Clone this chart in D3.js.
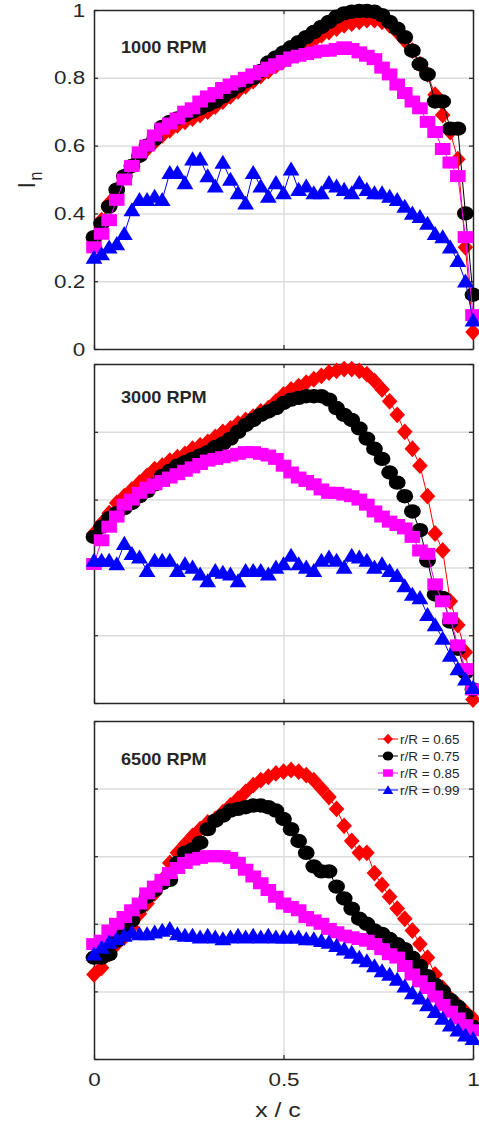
<!DOCTYPE html>
<html lang="en">
<head>
  <meta charset="UTF-8">
  <title>Normalized intensity vs chord</title>
  <script src="https://d3js.org/d3.v7.min.js"></script>
  <style>
    body { margin: 0; background: #fff; }
    text { font-family: "Liberation Sans", Arial, Helvetica, sans-serif; fill: #262626; }
  </style>
</head>
<body>
  <svg width="479" height="1126"></svg>
  <script>
    // chordwise stations x/c
    var xc = [0,0.02,0.04,0.06,0.08,0.10,0.12,0.14,0.16,0.18,
              0.20,0.22,0.24,0.26,0.28,0.30,0.32,0.34,0.36,0.38,
              0.40,0.42,0.44,0.46,0.48,0.50,0.52,0.54,0.56,0.58,
              0.60,0.62,0.64,0.66,0.68,0.70,0.72,0.74,0.76,0.78,
              0.80,0.82,0.84,0.86,0.88,0.90,0.92,0.94,0.96,0.98,1.0];

    var yTicks = [0, 0.2, 0.4, 0.6, 0.8, 1];
    var xTicks = [0, 0.5, 1];
    var seriesNames = ["r/R = 0.65", "r/R = 0.75", "r/R = 0.85", "r/R = 0.99"];
    var rpmLabels = ["1000 RPM", "3000 RPM", "6500 RPM"];

    // 1000 RPM
    var rpm1000_065 = [0.32,0.38,0.43,0.47,0.51,0.54,0.57,0.59,0.61,0.63,
      0.645,0.66,0.67,0.68,0.69,0.70,0.715,0.73,0.745,0.76,
      0.775,0.79,0.805,0.82,0.835,0.85,0.865,0.88,0.895,0.91,
      0.925,0.935,0.945,0.955,0.96,0.965,0.97,0.97,0.965,0.955,
      0.935,0.91,0.88,0.84,0.81,0.75,0.69,0.64,0.56,0.30,0.05];
    var rpm1000_075 = [0.33,0.37,0.42,0.47,0.51,0.54,0.57,0.60,0.62,0.655,
      0.67,0.68,0.69,0.70,0.71,0.72,0.73,0.745,0.76,0.775,
      0.79,0.80,0.82,0.845,0.86,0.875,0.89,0.905,0.92,0.935,
      0.95,0.965,0.98,0.99,0.995,0.997,0.997,0.995,0.985,0.965,
      0.945,0.92,0.88,0.84,0.81,0.73,0.73,0.65,0.65,0.40,0.16];
    var rpm1000_085 = [0.30,0.34,0.38,0.44,0.50,0.54,0.58,0.60,0.63,0.65,
      0.665,0.68,0.70,0.71,0.73,0.745,0.755,0.77,0.78,0.79,
      0.80,0.81,0.82,0.83,0.84,0.85,0.86,0.865,0.87,0.875,
      0.88,0.88,0.885,0.89,0.885,0.875,0.865,0.855,0.83,0.81,
      0.78,0.755,0.73,0.71,0.67,0.64,0.59,0.55,0.51,0.33,0.10];
    var rpm1000_099 = [0.27,0.28,0.30,0.31,0.34,0.41,0.44,0.44,0.45,0.44,
      0.52,0.52,0.49,0.56,0.56,0.51,0.48,0.55,0.50,0.46,
      0.43,0.52,0.48,0.45,0.49,0.46,0.53,0.47,0.48,0.46,
      0.46,0.49,0.48,0.47,0.46,0.49,0.47,0.46,0.46,0.45,
      0.44,0.42,0.40,0.39,0.37,0.34,0.33,0.30,0.26,0.20,0.085];

    // 3000 RPM
    var rpm3000_065 = [0.50,0.53,0.56,0.59,0.61,0.63,0.65,0.67,0.69,0.70,
      0.715,0.725,0.735,0.75,0.76,0.77,0.785,0.80,0.81,0.825,
      0.835,0.845,0.86,0.87,0.89,0.91,0.925,0.935,0.945,0.955,
      0.965,0.975,0.98,0.985,0.985,0.98,0.97,0.95,0.925,0.89,
      0.85,0.80,0.75,0.70,0.61,0.50,0.45,0.30,0.23,0.15,0.01];
    var rpm3000_075 = [0.49,0.52,0.545,0.56,0.575,0.59,0.61,0.625,0.645,0.67,
      0.685,0.70,0.71,0.72,0.73,0.74,0.755,0.765,0.78,0.80,
      0.82,0.835,0.85,0.86,0.87,0.885,0.895,0.90,0.905,0.905,
      0.905,0.895,0.87,0.85,0.835,0.81,0.78,0.75,0.72,0.68,
      0.65,0.61,0.565,0.51,0.42,0.32,0.31,0.24,0.16,0.09,0.04];
    var rpm3000_085 = [0.41,0.48,0.52,0.55,0.585,0.60,0.62,0.635,0.645,0.655,
      0.665,0.675,0.685,0.695,0.705,0.715,0.72,0.725,0.73,0.735,
      0.74,0.74,0.735,0.73,0.72,0.70,0.68,0.665,0.655,0.645,
      0.63,0.62,0.62,0.615,0.61,0.60,0.585,0.565,0.55,0.535,
      0.525,0.515,0.49,0.45,0.44,0.35,0.30,0.25,0.17,0.10,0.04];
    var rpm3000_099 = [0.42,0.42,0.42,0.41,0.47,0.44,0.43,0.39,0.42,0.42,
      0.42,0.39,0.41,0.40,0.38,0.36,0.39,0.385,0.38,0.36,
      0.39,0.39,0.39,0.38,0.40,0.41,0.435,0.41,0.40,0.39,
      0.42,0.43,0.42,0.40,0.435,0.43,0.42,0.40,0.41,0.39,
      0.375,0.345,0.32,0.31,0.26,0.23,0.19,0.14,0.10,0.07,0.045];

    // 6500 RPM
    var rpm6500_065 = [0.25,0.27,0.31,0.34,0.36,0.39,0.43,0.46,0.49,0.53,
      0.58,0.61,0.635,0.66,0.68,0.70,0.71,0.73,0.75,0.77,
      0.79,0.81,0.825,0.835,0.845,0.85,0.855,0.85,0.84,0.825,
      0.80,0.775,0.74,0.69,0.645,0.61,0.61,0.55,0.515,0.48,
      0.445,0.415,0.38,0.34,0.30,0.25,0.21,0.18,0.16,0.14,0.12];
    var rpm6500_075 = [0.30,0.30,0.31,0.35,0.38,0.41,0.45,0.48,0.50,0.52,
      0.53,0.58,0.61,0.62,0.64,0.68,0.705,0.72,0.735,0.74,
      0.745,0.75,0.75,0.745,0.735,0.71,0.68,0.645,0.61,0.57,
      0.555,0.555,0.51,0.475,0.445,0.415,0.40,0.38,0.37,0.355,
      0.34,0.325,0.30,0.275,0.245,0.22,0.20,0.175,0.155,0.13,0.095];
    var rpm6500_085 = [0.34,0.35,0.38,0.40,0.42,0.44,0.46,0.49,0.51,0.53,
      0.55,0.565,0.58,0.59,0.595,0.60,0.60,0.60,0.595,0.58,
      0.56,0.54,0.52,0.50,0.48,0.46,0.45,0.44,0.42,0.41,
      0.40,0.385,0.375,0.365,0.36,0.355,0.35,0.34,0.325,0.31,
      0.30,0.275,0.25,0.23,0.21,0.185,0.16,0.14,0.12,0.10,0.085];
    var rpm6500_099 = [0.31,0.33,0.345,0.355,0.365,0.375,0.37,0.37,0.375,0.38,
      0.385,0.37,0.365,0.365,0.36,0.365,0.36,0.355,0.36,0.365,
      0.36,0.365,0.36,0.365,0.36,0.36,0.36,0.36,0.355,0.355,
      0.35,0.345,0.335,0.325,0.315,0.30,0.29,0.275,0.26,0.25,
      0.235,0.215,0.195,0.18,0.16,0.14,0.12,0.10,0.085,0.07,0.06];

    var colors = ["#ff0000", "#000000", "#ff00ff", "#0000ff"];
    var shapes = ["diamond", "circle", "square", "triangle"];

    var panels = [
      { label: rpmLabels[0], series: [rpm1000_065, rpm1000_075, rpm1000_085, rpm1000_099], top: 10, bottom: 349, labelY: 53 },
      { label: rpmLabels[1], series: [rpm3000_065, rpm3000_075, rpm3000_085, rpm3000_099], top: 364, bottom: 703, labelY: 403 },
      { label: rpmLabels[2], series: [rpm6500_065, rpm6500_075, rpm6500_085, rpm6500_099], top: 721, bottom: 1059, labelY: 765 }
    ];

    var svg = d3.select("svg"),
        left = 94, right = 473,
        sx = 1.18; // the figure is a bit wider than tall, glyphs too

    var x = d3.scaleLinear().domain([0, 1]).range([left, right]);

    // marker outlines, s = scale
    function marker(shape, s) {
      var w, h;
      if (shape === "diamond") { w = 6.5 * s; h = 7 * s; return "M0," + (-h) + "L" + w + ",0L0," + h + "L" + (-w) + ",0Z"; }
      if (shape === "square") { w = 6.5 * s; h = 5 * s; return "M" + (-w) + "," + (-h) + "H" + w + "V" + h + "H" + (-w) + "Z"; }
      if (shape === "triangle") { w = 7 * s; h = 6.5 * s; return "M0," + (-h) + "L" + w + "," + (h * 0.8) + "H" + (-w) + "Z"; }
      w = 7 * s; h = 6 * s;
      return "M" + (-w) + ",0A" + w + "," + h + " 0 1,0 " + w + ",0A" + w + "," + h + " 0 1,0 " + (-w) + ",0Z";
    }

    function styleAxis(sel) {
      sel.select(".domain").attr("stroke", "#262626").attr("stroke-width", 1.5);
      sel.selectAll(".tick line").attr("stroke", "#262626").attr("stroke-width", 1.2);
      sel.selectAll("text").style("font-size", "19px").attr("fill", "#262626");
    }

    panels.forEach(function(p, i) {
      var y = d3.scaleLinear().domain([0, 1]).range([p.bottom, p.top]);
      var g = svg.append("g");

      // grid
      g.append("g")
        .attr("transform", "translate(" + left + ",0)")
        .call(d3.axisLeft(y).tickValues([0.2, 0.4, 0.6, 0.8]).tickSize(-(right - left)).tickFormat(""))
        .call(function(s) { s.select(".domain").remove(); })
        .selectAll("line").attr("stroke", "#dcdcdc").attr("stroke-width", 1.5);
      g.append("g")
        .attr("transform", "translate(0," + p.bottom + ")")
        .call(d3.axisBottom(x).tickValues([0.5]).tickSize(-(p.bottom - p.top)).tickFormat(""))
        .call(function(s) { s.select(".domain").remove(); })
        .selectAll("line").attr("stroke", "#dcdcdc").attr("stroke-width", 1.5);

      // box with inward ticks
      var yl = g.append("g").attr("transform", "translate(" + left + ",0)")
        .call(d3.axisLeft(y).tickValues(yTicks).tickSizeInner(-4).tickSizeOuter(0).tickPadding(7.5)
          .tickFormat(i === 0 ? d3.format("~g") : ""));
      styleAxis(yl);
      yl.selectAll("text").attr("transform", "scale(" + sx + ",1)");
      styleAxis(g.append("g").attr("transform", "translate(" + right + ",0)")
        .call(d3.axisRight(y).tickValues(yTicks).tickSizeInner(-4).tickSizeOuter(0).tickFormat("")));
      styleAxis(g.append("g").attr("transform", "translate(0," + p.top + ")")
        .call(d3.axisTop(x).tickValues(xTicks).tickSizeInner(-4).tickSizeOuter(0).tickFormat("")));
      var xl = g.append("g").attr("transform", "translate(0," + p.bottom + ")")
        .call(d3.axisBottom(x).tickValues(xTicks).tickSizeInner(-4).tickSizeOuter(0).tickPadding(14)
          .tickFormat(i === 2 ? d3.format("~g") : ""));
      styleAxis(xl);
      xl.selectAll("text").attr("transform", "scale(" + sx + ",1)");

      // series
      var line = d3.line().x(function(d) { return x(d[0]); }).y(function(d) { return y(d[1]); });
      p.series.forEach(function(vals, k) {
        var pts = xc.map(function(xv, j) { return [xv, vals[j]]; });
        g.append("path")
          .attr("d", line(pts))
          .attr("fill", "none")
          .attr("stroke", colors[k])
          .attr("stroke-width", 1);
        g.append("g").selectAll("path")
          .data(pts)
          .enter().append("path")
          .attr("transform", function(d) { return "translate(" + x(d[0]) + "," + y(d[1]) + ")"; })
          .attr("d", marker(shapes[k], 1.2))
          .attr("fill", colors[k]);
      });

      g.append("g")
        .attr("transform", "translate(121," + p.labelY + ") scale(1.1,1)")
        .append("text")
        .style("font-size", "16.5px")
        .style("font-weight", "bold")
        .attr("fill", "#000")
        .text(p.label);

      if (i === 2) {
        var lg = g.append("g");
        seriesNames.forEach(function(name, k) {
          var ry = 739 + k * 17;
          lg.append("line").attr("x1", 378).attr("x2", 398).attr("y1", ry).attr("y2", ry)
            .attr("stroke", colors[k]).attr("stroke-width", 1);
          lg.append("path").attr("transform", "translate(388," + ry + ")")
            .attr("d", marker(shapes[k], 0.75)).attr("fill", colors[k]);
          lg.append("g").attr("transform", "translate(400," + (ry + 4.5) + ") scale(1.12,1)")
            .append("text").style("font-size", "12px").attr("fill", "#000").text(name);
        });
      }
    });

    // axis titles
    var xt = svg.append("g").attr("transform", "translate(278,1117) scale(" + sx + ",1)");
    xt.append("text").attr("text-anchor", "middle").style("font-size", "21px").text("x / c");

    var yt = svg.append("g").attr("transform", "translate(35,180) scale(" + sx + ",1) rotate(-90)");
    var ytxt = yt.append("text").attr("text-anchor", "middle").style("font-size", "21px");
    ytxt.append("tspan").text("I");
    ytxt.append("tspan").attr("dy", 6).attr("dx", 2).style("font-size", "16px").text("n");
  </script>
</body>
</html>
